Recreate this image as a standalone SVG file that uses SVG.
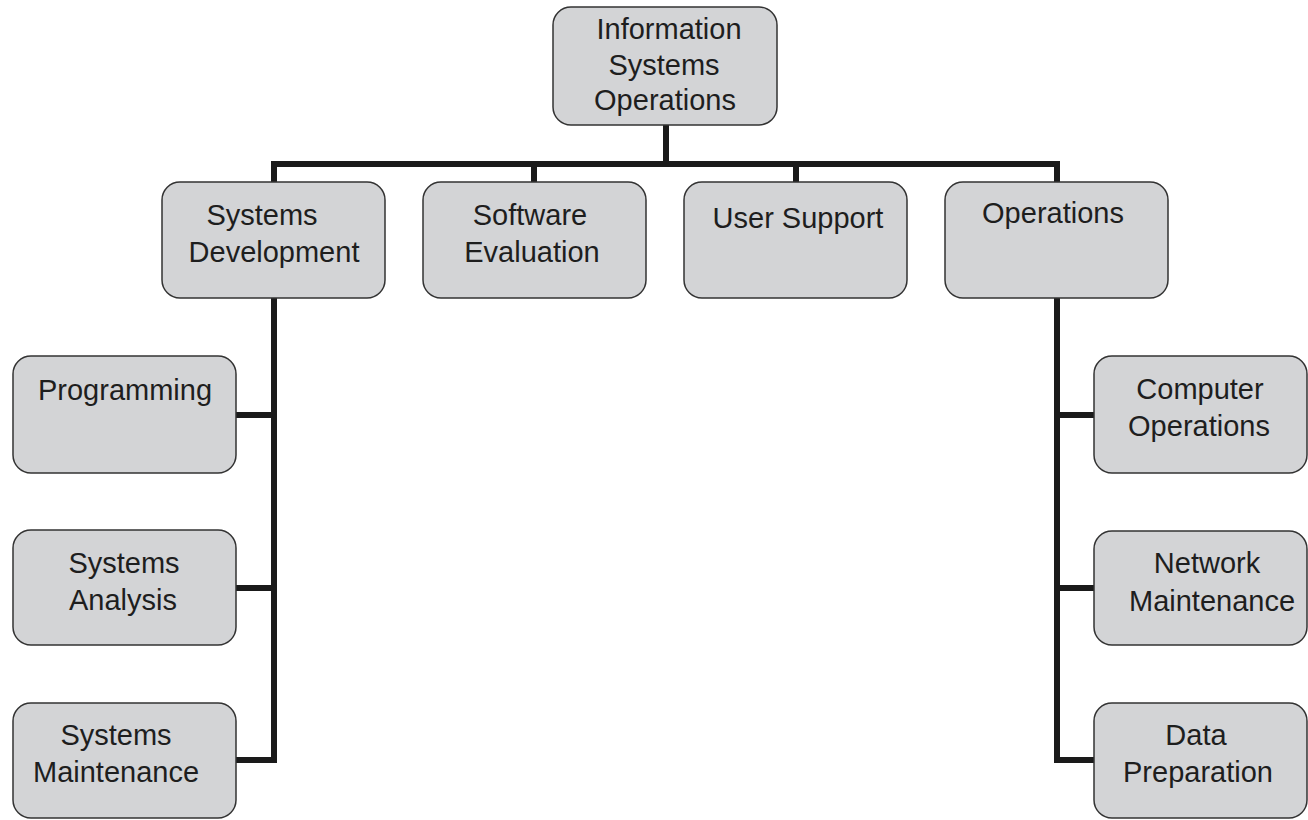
<svg xmlns="http://www.w3.org/2000/svg" width="1308" height="820" viewBox="0 0 1308 820">
<style>
.box{fill:#d3d4d6;stroke:#333;stroke-width:1.5}
text{font-family:"Liberation Sans",Arial,sans-serif;font-size:29px;fill:#1e1e1e;text-anchor:middle}
.conn{fill:none;stroke:#1a1a1a;stroke-width:6;stroke-linejoin:miter;stroke-linecap:butt}
</style>
<rect width="1308" height="820" fill="#fff"/>
<g id="connectors">
<path class="conn" d="M666 125V164"/>
<path class="conn" d="M274 182V164H1057V182"/>
<path class="conn" d="M534 164V182"/>
<path class="conn" d="M796 164V182"/>
<path class="conn" d="M274 298V760H236"/>
<path class="conn" d="M236 415H274"/>
<path class="conn" d="M236 588H274"/>
<path class="conn" d="M1057 298V760H1094"/>
<path class="conn" d="M1094 415H1057"/>
<path class="conn" d="M1094 588H1057"/>
</g>
<g id="n-iso"><rect class="box" x="553" y="7" width="224" height="118" rx="18"/><text x="669" y="39">Information</text><text x="664" y="75">Systems</text><text x="665" y="110">Operations</text></g>
<g id="n-sysdev"><rect class="box" x="162" y="182" width="223" height="116" rx="18"/><text x="262" y="225">Systems</text><text x="274" y="262">Development</text></g>
<g id="n-softeval"><rect class="box" x="423" y="182" width="223" height="116" rx="18"/><text x="530" y="225">Software</text><text x="532" y="262">Evaluation</text></g>
<g id="n-usersupport"><rect class="box" x="684" y="182" width="223" height="116" rx="18"/><text x="798" y="228">User Support</text></g>
<g id="n-operations"><rect class="box" x="945" y="182" width="223" height="116" rx="18"/><text x="1053" y="223">Operations</text></g>
<g id="n-programming"><rect class="box" x="13" y="356" width="223" height="117" rx="18"/><text x="125" y="400">Programming</text></g>
<g id="n-sysanalysis"><rect class="box" x="13" y="530" width="223" height="115" rx="18"/><text x="124" y="573">Systems</text><text x="123" y="610">Analysis</text></g>
<g id="n-sysmaint"><rect class="box" x="13" y="703" width="223" height="115" rx="18"/><text x="116" y="745">Systems</text><text x="116" y="782">Maintenance</text></g>
<g id="n-compops"><rect class="box" x="1094" y="356" width="213" height="117" rx="18"/><text x="1200" y="399">Computer</text><text x="1199" y="436">Operations</text></g>
<g id="n-netmaint"><rect class="box" x="1094" y="531" width="213" height="114" rx="18"/><text x="1207" y="573">Network</text><text x="1212" y="611">Maintenance</text></g>
<g id="n-dataprep"><rect class="box" x="1094" y="703" width="213" height="115" rx="18"/><text x="1196" y="745">Data</text><text x="1198" y="782">Preparation</text></g>
</svg>
